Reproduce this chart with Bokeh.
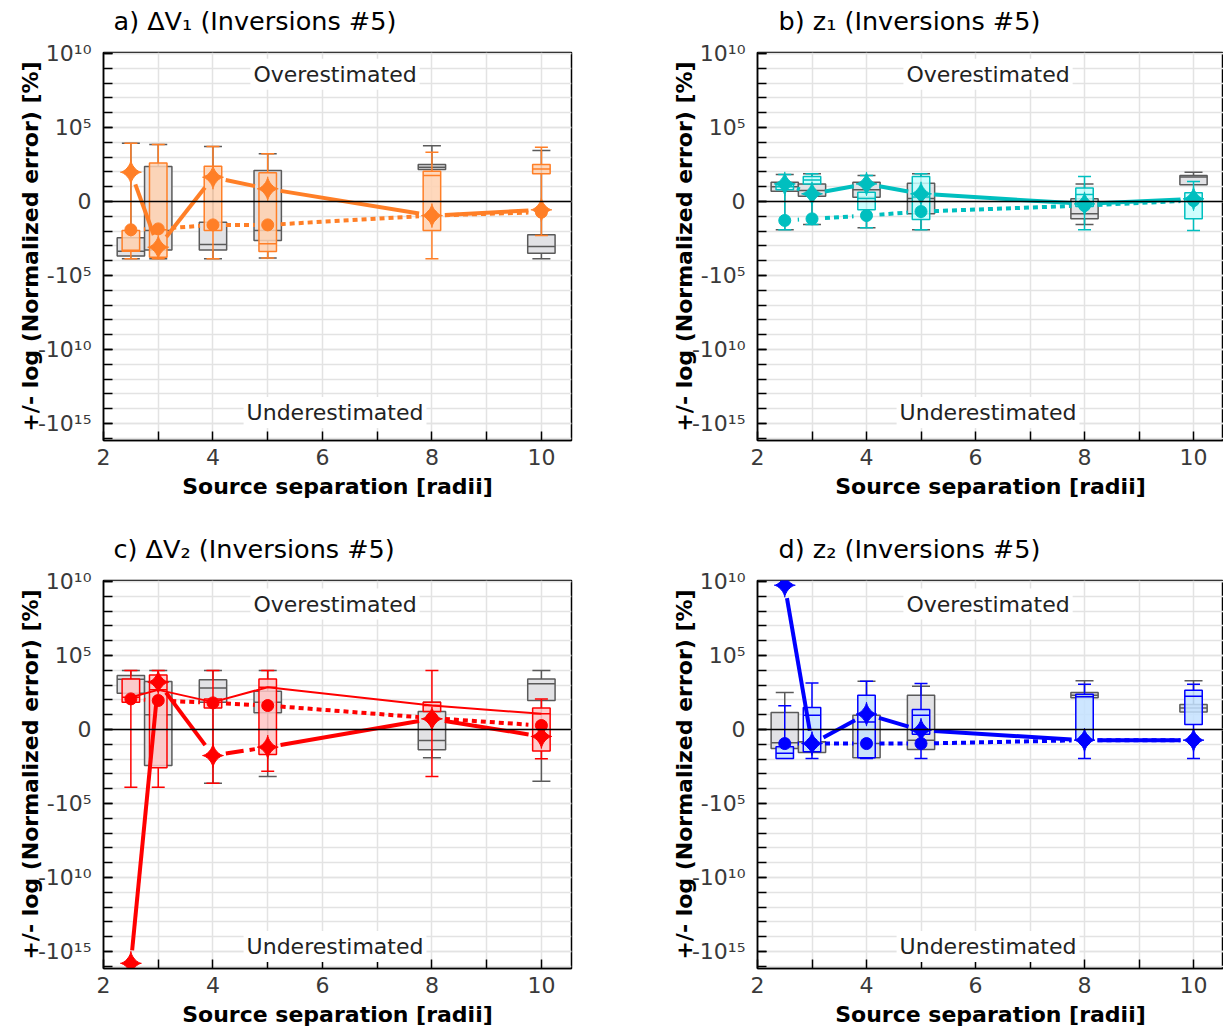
import math

from bokeh.core.properties import value
from bokeh.embed import file_html
from bokeh.layouts import column, row
from bokeh.models import FixedTicker, Label, Range1d, Span
from bokeh.plotting import figure
from bokeh.resources import INLINE

# Source separations (radii)
separation = [2.5, 3, 4, 5, 8, 10]

# Every error value below is in signed decades: sign(e) * log10(|e|), e in %.

# a) dV1 -- reference set (grey) and selected set (orange)
dv1_all = {"lo": [-3.87, -3.87, -3.87, -3.81, 2.16, -3.87],
           "q1": [-3.69, -3.27, -3.27, -2.64, 2.16, -3.49],
           "med": [-3.36, -1.96, -2.90, -1.96, 2.32, -3.04],
           "q3": [-2.45, 2.36, -1.40, 2.09, 2.50, -2.25],
           "hi": [3.94, 3.85, 3.72, 3.22, 3.76, 3.45]}
dv1_sel = {"lo": [-3.87, -3.87, -3.87, -3.81, -3.87, -2.30],
           "q1": [-3.36, -3.76, -1.96, -3.38, -1.96, 1.87],
           "med": [-3.30, -1.90, 1.70, -2.86, 1.76, 2.20],
           "q3": [-1.96, 2.61, 2.39, 1.94, 2.05, 2.50],
           "hi": [3.94, 3.85, 3.72, 3.22, 3.33, 3.67]}
dv1_best = [1.98, -3.09, 1.64, 0.86, -0.95, -0.56]
dv1_median = [-1.91, -1.85, -1.58, -1.58, -0.95, -0.72]

# b) z1
z1_all = {"lo": [-1.91, -1.55, -1.78, -1.91, -1.55, 1.13],
          "q1": [0.70, 0.36, 0.29, -0.83, -1.17, 1.13],
          "med": [1.00, 0.75, 0.80, 0.20, -0.83, 1.65],
          "q3": [1.31, 1.19, 1.31, 1.24, 0.18, 1.76],
          "hi": [1.82, 1.87, 1.76, 1.87, 1.19, 1.98]}
z1_sel = {"lo": [-1.91, -1.55, -1.78, -1.91, -1.91, -1.96],
          "q1": [0.79, 1.19, -0.56, -1.22, -0.34, -1.17],
          "med": [1.00, 1.45, 0.20, 0.30, 0.47, 0.00],
          "q3": [1.19, 1.69, 0.63, 1.69, 0.92, 0.59],
          "hi": [1.82, 1.87, 1.76, 1.87, 1.69, 1.35]}
z1_best = [1.19, 0.52, 1.19, 0.52, -0.16, 0.18]
z1_median = [-1.28, -1.17, -0.95, -0.68, -0.27, 0.07]

# c) dV2
dv2_all = {"lo": [2.45, -2.43, -3.63, -3.18, -1.91, -3.49],
           "q1": [2.45, -2.43, 1.85, 1.13, -1.37, 1.96],
           "med": [3.40, 1.00, 2.80, 1.85, -0.74, 3.09],
           "q3": [3.65, 3.24, 3.36, 2.59, 1.22, 3.42],
           "hi": [3.99, 3.99, 3.99, 3.99, 1.85, 3.99]}
dv2_sel = {"lo": [-3.90, -3.90, -3.63, -2.82, -3.18, -1.98],
           "q1": [1.85, -2.59, 1.46, -1.69, 1.22, -1.46],
           "med": [2.18, 2.68, 1.85, 2.86, 1.62, 1.06],
           "q3": [3.42, 3.69, 2.07, 3.42, 1.85, 1.46],
           "hi": [3.99, 3.99, 3.99, 3.99, 3.99, 2.07]}
dv2_best = [-15.80, 3.20, -1.76, -1.19, 0.72, -0.47]
dv2_median = [2.07, 1.96, 1.80, 1.62, 0.77, 0.27]

# d) z2
z2_all = {"lo": [-1.28, -1.55, -1.91, -1.35, 2.14, 1.19],
          "q1": [-1.28, -1.55, -1.91, -1.35, 2.14, 1.19],
          "med": [-0.90, -0.83, -0.95, -0.72, 2.32, 1.45],
          "q3": [1.15, -0.83, 0.97, 2.32, 2.50, 1.69],
          "hi": [2.50, -0.83, 3.27, 2.93, 3.29, 3.29]}
z2_sel = {"lo": [-1.96, -1.96, -1.96, -1.96, -1.96, -1.96],
          "q1": [-1.96, -1.51, -1.91, -0.32, -0.72, 0.34],
          "med": [-1.60, 0.97, 0.50, 0.97, 2.21, 2.25],
          "q3": [-1.17, 1.49, 2.32, 1.35, 2.39, 2.66],
          "hi": [1.60, 3.15, 3.27, 3.11, 3.06, 3.06]}
z2_best = [9.75, -0.95, 1.04, -0.05, -0.72, -0.72]
z2_median = [-0.95, -0.95, -0.95, -0.95, -0.72, -0.72]

Y_TICKS = [-15, -10, -5, 0, 5, 10]
Y_TICK_TEXT = ["-10¹⁵", "-10¹⁰", "-10⁵", "0", "10⁵", "10¹⁰"]
X_TICKS = [2, 4, 6, 8, 10]
X_MINOR = [3, 5, 7, 9]

X_START, X_END = 2.0, 10.55
Y_START, Y_END = -16.15, 10.07
FRAME_H = 388
TITLE_H = 36
FONT = "DejaVu Sans"
GREY_FILL, GREY_LINE = "#e2e2e5", "#5a5a5a"
GAP_PX = 13


def gapped_segments(xs, ys, sx, sy, gap):
    """Shorten each polyline segment by `gap` pixels at both ends."""
    out = {"x0": [], "y0": [], "x1": [], "y1": []}
    for (xa, ya), (xb, yb) in zip(zip(xs, ys), zip(xs[1:], ys[1:])):
        length = math.hypot((xb - xa) * sx, (yb - ya) * sy)
        if length <= 2 * gap:
            continue
        f = gap / length
        out["x0"].append(xa + (xb - xa) * f)
        out["y0"].append(ya + (yb - ya) * f)
        out["x1"].append(xb - (xb - xa) * f)
        out["y1"].append(yb - (yb - ya) * f)
    return out


def star_polygons(xs, ys, sx, sy, rx=10.5, ry=12.0, n=40):
    """Four-pointed star outlines (astroid) sized in pixels."""
    px, py = [], []
    for x, y in zip(xs, ys):
        ts = [2 * math.pi * k / n for k in range(n)]
        px.append([x + rx * (math.cos(t) ** 3) / sx for t in ts])
        py.append([y + ry * (math.sin(t) ** 3) / sy for t in ts])
    return px, py


def draw_boxes(p, stats, width, cap, fill, line, alpha):
    x = separation
    lo_x = [xi for xi, a, b in zip(x, stats["lo"], stats["q1"]) if a < b]
    lo_a = [a for a, b in zip(stats["lo"], stats["q1"]) if a < b]
    lo_b = [b for a, b in zip(stats["lo"], stats["q1"]) if a < b]
    hi_x = [xi for xi, a, b in zip(x, stats["q3"], stats["hi"]) if b > a]
    hi_a = [a for a, b in zip(stats["q3"], stats["hi"]) if b > a]
    hi_b = [b for a, b in zip(stats["q3"], stats["hi"]) if b > a]
    p.segment(x0=lo_x, y0=lo_a, x1=lo_x, y1=lo_b, line_color=line, line_width=1.5)
    p.segment(x0=hi_x, y0=hi_a, x1=hi_x, y1=hi_b, line_color=line, line_width=1.5)
    p.scatter(lo_x, lo_a, marker="dash", size=cap, line_color=line, line_width=1.5)
    p.scatter(hi_x, hi_b, marker="dash", size=cap, line_color=line, line_width=1.5)
    p.vbar(x=x, width=width, bottom=stats["q1"], top=stats["q3"],
           fill_color=fill, fill_alpha=alpha, line_color=line, line_width=1.5)
    half = width / 2
    p.segment(x0=[xi - half for xi in x], y0=stats["med"],
              x1=[xi + half for xi in x], y1=stats["med"],
              line_color=line, line_width=1.5)


def title_strip(text, left_col):
    """A bare strip above each panel carrying the panel title."""
    width = 654 if left_col else 569
    t = figure(width=width, height=TITLE_H, x_range=Range1d(0, width),
               y_range=Range1d(0, TITLE_H), output_backend="svg",
               toolbar_location=None, min_border=0,
               min_border_left=0, min_border_right=0,
               min_border_top=0, min_border_bottom=0,
               background_fill_color="white", border_fill_color="white")
    t.axis.visible = False
    t.grid.visible = False
    t.outline_line_color = None
    x0 = 113 if left_col else 124
    t.text(x=[x0], y=[TITLE_H - 20], text=[text], text_font=value(FONT),
           text_font_size=value("25.5px"), text_color="black",
           text_align="left", text_baseline="middle")
    return t


def make_panel(color, fill, ref, sel, best, median, left_col, top_row,
               dashed_segment=None, median_line=False):
    frame_w = 468 if left_col else 466
    width = 654 if left_col else 569
    border_top = 52 - TITLE_H
    border_bottom = 88 if top_row else 68
    height = border_top + FRAME_H + border_bottom
    p = figure(width=width, height=height,
               x_range=Range1d(X_START, X_END), y_range=Range1d(Y_START, Y_END),
               output_backend="svg", toolbar_location=None,
               min_border_left=103, min_border_right=width - 103 - frame_w,
               min_border_top=border_top, min_border_bottom=border_bottom,
               background_fill_color="white", border_fill_color="white")
    sx = frame_w / (X_END - X_START)
    sy = FRAME_H / (Y_END - Y_START)

    p.outline_line_color = "black"
    p.outline_line_width = 1.5

    # axes and grid
    xt = FixedTicker(ticks=X_TICKS, minor_ticks=X_MINOR)
    yt = FixedTicker(ticks=Y_TICKS, minor_ticks=list(range(-16, 11)))
    p.xaxis.ticker = xt
    p.yaxis.ticker = yt
    p.xgrid.ticker = xt
    p.ygrid.ticker = yt
    p.yaxis.major_label_overrides = dict(zip(Y_TICKS, Y_TICK_TEXT))
    for ax in (p.xaxis[0], p.yaxis[0]):
        ax.axis_line_color = "black"
        ax.axis_line_width = 1.5
        ax.major_tick_in = 9
        ax.major_tick_out = 0
        ax.minor_tick_in = 9
        ax.minor_tick_out = 0
        ax.major_tick_line_color = "black"
        ax.minor_tick_line_color = "black"
        ax.major_tick_line_width = 1.5
        ax.minor_tick_line_width = 1.5
        ax.major_label_text_font = FONT
        ax.major_label_text_font_size = "22px"
        ax.major_label_text_color = "#3a3a3a"
        ax.axis_label_text_font = FONT
        ax.axis_label_text_font_size = "22px"
        ax.axis_label_text_font_style = "bold"
        ax.axis_label_text_color = "black"
    p.xaxis.axis_label = "Source separation [radii]"
    p.xaxis.major_label_standoff = 8
    p.xaxis.axis_label_standoff = 6
    p.yaxis.axis_label = "+/- log (Normalized error) [%]"
    p.yaxis.major_label_standoff = 12
    p.yaxis.axis_label_standoff = -8
    for g in (p.xgrid[0], p.ygrid[0]):
        g.grid_line_color = "#e3e3e3"
        g.grid_line_width = 1.5
        g.minor_grid_line_color = "#e3e3e3"
        g.minor_grid_line_width = 1.5

    p.add_layout(Span(location=0, dimension="width", line_color="black", line_width=1.5))

    over_y, under_y = (8.6, -14.25) if top_row else (8.48, -14.66)
    for txt, yy in (("Overestimated", over_y), ("Underestimated", under_y)):
        p.add_layout(Label(x=6.23, y=yy, text=txt, text_align="center",
                           text_baseline="middle", text_font=FONT,
                           text_font_size="22px", text_color="#222222",
                           background_fill_color="white", padding=3))

    # box plots: reference set behind, selected set in front
    draw_boxes(p, ref, 0.5, 18, GREY_FILL, GREY_LINE, 1.0)
    draw_boxes(p, sel, 0.32, 13, fill, color, 0.85)

    if median_line:
        p.line(separation, sel["med"], line_color=color, line_width=2)

    # best-model line (solid) and median line (dotted), with gaps at markers
    seg = gapped_segments(separation, best, sx, sy, GAP_PX)
    if dashed_segment is not None:
        i = dashed_segment
        solid = {k: [v for j, v in enumerate(vals) if j != i] for k, vals in seg.items()}
        dash = {k: [vals[i]] for k, vals in seg.items()}
        p.segment(**solid, line_color=color, line_width=4)
        p.segment(**dash, line_color=color, line_width=4, line_dash="18 6")
    else:
        p.segment(**seg, line_color=color, line_width=4)
    dseg = gapped_segments(separation, median, sx, sy, GAP_PX)
    p.segment(**dseg, line_color=color, line_width=4, line_dash="5 4")

    p.scatter(separation, median, marker="circle", size=12,
              fill_color=color, line_color=color)
    sxs, sys_ = star_polygons(separation, best, sx, sy)
    p.patches(sxs, sys_, fill_color=color, line_color=color, line_width=1)
    p.scatter(separation, best, marker="circle", size=8,
              fill_color=color, line_color=color)
    return p


ta = title_strip("a) ΔV₁ (Inversions #5)", True)
tb = title_strip("b) z₁ (Inversions #5)", False)
tc = title_strip("c) ΔV₂ (Inversions #5)", True)
td = title_strip("d) z₂ (Inversions #5)", False)

pa = make_panel("#ff7f27", "#ffd1b0", dv1_all, dv1_sel, dv1_best, dv1_median,
                True, True)
pb = make_panel("#00bfbf", "#c6ffff", z1_all, z1_sel, z1_best, z1_median,
                False, True)
pc = make_panel("#ff0000", "#ffc4c4", dv2_all, dv2_sel, dv2_best, dv2_median,
                True, False, dashed_segment=2, median_line=True)
pd = make_panel("#0000ff", "#c4e2ff", z2_all, z2_sel, z2_best, z2_median,
                False, False)

layout = column(row(ta, tb), row(pa, pb), row(tc, td), row(pc, pd))
open("out.html", "w").write(file_html(layout, INLINE))
